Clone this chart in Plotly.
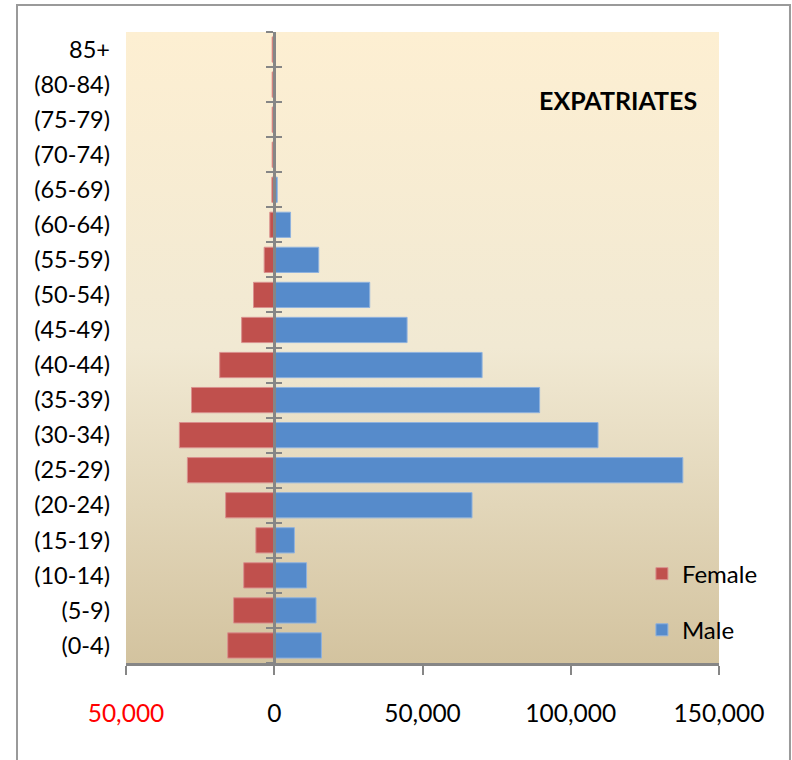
import base64
import numpy as np
import plotly.graph_objects as go

# ---------------- data ----------------
age_groups = ["(0-4)", "(5-9)", "(10-14)", "(15-19)", "(20-24)", "(25-29)", "(30-34)",
              "(35-39)", "(40-44)", "(45-49)", "(50-54)", "(55-59)", "(60-64)",
              "(65-69)", "(70-74)", "(75-79)", "(80-84)", "85+"]
female = [15700, 13700, 10300, 6200, 16400, 29300, 32000, 27900, 18400, 11000,
          7000, 3400, 1500, 800, 700, 700, 700, 700]
male = [15900, 14100, 10900, 6800, 66700, 137800, 109200, 89500, 70100, 44800,
        32200, 15000, 5500, 1000, 300, 300, 300, 300]
x_tickvals = [-50000, 0, 50000, 100000, 150000]
x_ticktext = ['<span style="color:red">50,000</span>', "0", "50,000", "100,000", "150,000"]
title_text = "EXPATRIATES"

# ---------------- styling ----------------
FONT = "Lato, 'Open Sans', sans-serif"
GREY = "#868686"
x_range = [-50000, 150000]
n = len(age_groups)
y_pos = list(range(n))
boundaries = list(np.arange(n + 1) - 0.5)
zero_pos = (0 - x_range[0]) / (x_range[1] - x_range[0])

svg = ('<svg xmlns="http://www.w3.org/2000/svg" width="100" height="100" preserveAspectRatio="none">'
       '<defs><linearGradient id="g" x1="0" y1="0" x2="0" y2="1">'
       '<stop offset="0" stop-color="#FDEFD2"/><stop offset="0.5" stop-color="#F1E9D3"/>'
       '<stop offset="1" stop-color="#D3C39F"/></linearGradient></defs>'
       '<rect width="100" height="100" fill="url(#g)"/></svg>')
bg_uri = "data:image/svg+xml;base64," + base64.b64encode(svg.encode()).decode()

fig = go.Figure()
fig.add_trace(go.Bar(
    y=y_pos, x=[-v for v in female], orientation="h", name="Female",
    marker=dict(color="#C0504D", line=dict(color="#D9908E", width=1)),
    legend="legend",
))
fig.add_trace(go.Bar(
    y=y_pos, x=male, orientation="h", name="Male",
    marker=dict(color="#568BCB", line=dict(color="#8FB2DE", width=1)),
    legend="legend2",
))
# empty helper traces so the zero-axis overlays are rendered
for ax in ("y2", "y3"):
    fig.add_trace(go.Scatter(x=[None], y=[None], yaxis=ax, showlegend=False,
                             hoverinfo="skip", mode="markers"))

axis_common = dict(automargin=False, showgrid=False, zeroline=False)

fig.update_layout(
    width=792, height=760,
    margin=dict(l=126, r=73, t=32, b=97, autoexpand=False),
    paper_bgcolor="white",
    plot_bgcolor="rgba(0,0,0,0)",
    barmode="overlay",
    bargap=0.28,
    font=dict(family=FONT, size=24, color="black"),
    xaxis=dict(
        range=x_range, tickvals=x_tickvals, ticktext=x_ticktext,
        ticks="outside", ticklen=9, tickwidth=2, tickcolor=GREY,
        showline=True, linecolor=GREY, linewidth=3,
        ticklabelstandoff=18,
        tickfont=dict(size=24.5, family=FONT, color="black"),
        **axis_common,
    ),
    yaxis=dict(
        range=[-0.5, n - 0.5], tickvals=y_pos, ticktext=age_groups,
        showline=False, ticks="",
        ticklabelstandoff=15,
        tickfont=dict(size=23.5, family=FONT, color="black"),
        **axis_common,
    ),
    yaxis2=dict(
        overlaying="y", anchor="free", position=zero_pos,
        range=[-0.5, n - 0.5], tickvals=boundaries,
        ticks="outside", ticklen=7, tickwidth=2, tickcolor=GREY,
        showticklabels=False, showline=True, linecolor=GREY, linewidth=3,
        **axis_common,
    ),
    yaxis3=dict(
        overlaying="y", anchor="free", position=zero_pos,
        range=[-0.5, n - 0.5], tickvals=boundaries,
        ticks="inside", ticklen=7, tickwidth=2, tickcolor=GREY,
        showticklabels=False, showline=False,
        **axis_common,
    ),
    legend=dict(x=0.870, y=0.141, xanchor="left", yanchor="middle",
                bgcolor="rgba(0,0,0,0)", font=dict(size=24, family=FONT)),
    legend2=dict(x=0.870, y=0.052, xanchor="left", yanchor="middle",
                 bgcolor="rgba(0,0,0,0)", font=dict(size=24, family=FONT)),
    images=[dict(source=bg_uri, xref="paper", yref="paper", x=0, y=1,
                 sizex=1, sizey=1, sizing="stretch", layer="below",
                 xanchor="left", yanchor="top")],
    shapes=[dict(type="rect", xref="paper", yref="paper",
                 x0=-0.1838, x1=1.1197, y0=-0.30, y1=1.0428,
                 line=dict(color="#9A9A9A", width=2), layer="below")],
    annotations=[dict(text="<b>" + title_text + "</b>", xref="paper", yref="paper",
                      x=0.966, y=0.892, xanchor="right", yanchor="middle",
                      showarrow=False, font=dict(size=25, family=FONT, color="black"))],
    showlegend=True,
)

fig.write_html("out.html",
               config={"displayModeBar": False},
               post_script="document.body.style.margin='0';document.body.style.overflow='hidden';")
